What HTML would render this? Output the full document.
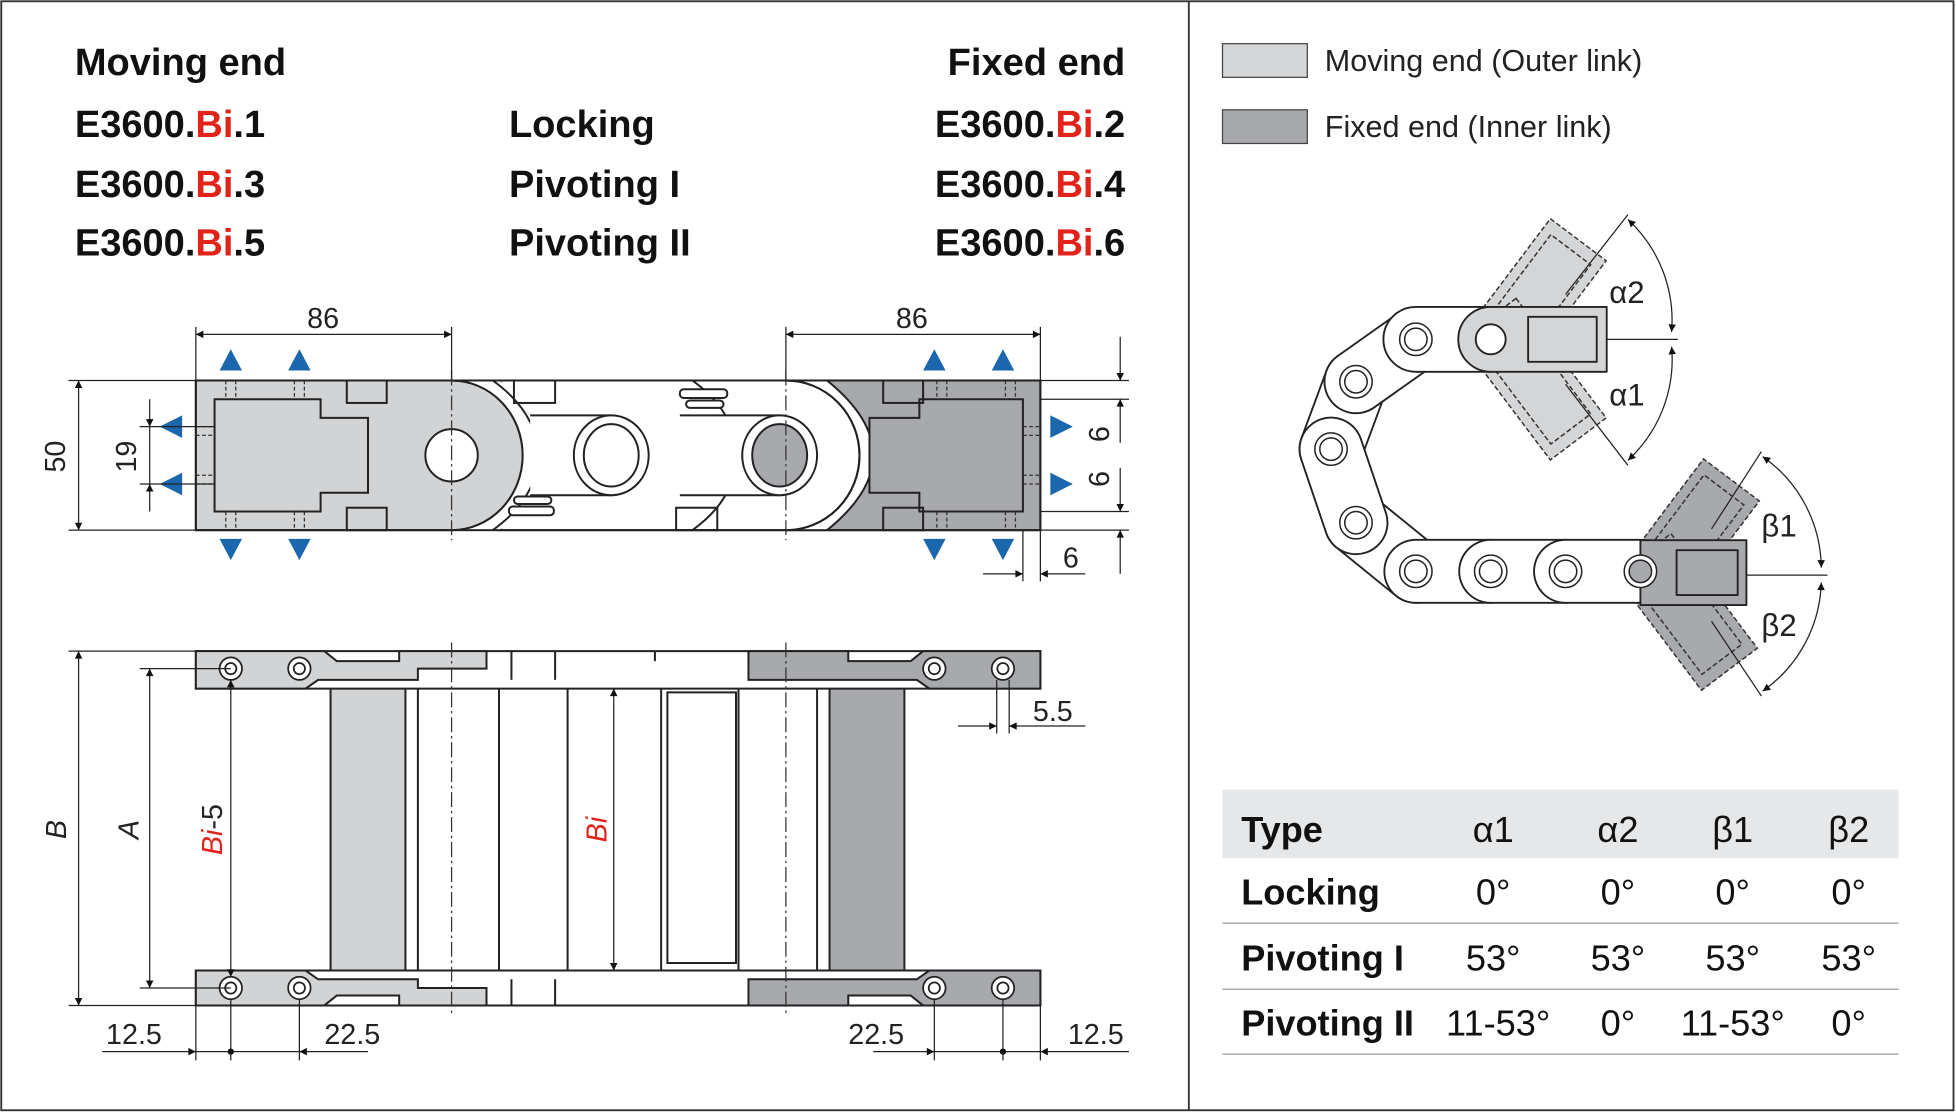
<!DOCTYPE html>
<html><head><meta charset="utf-8"><style>
html,body{margin:0;padding:0;background:#fff}
svg{display:block}
text{font-family:"Liberation Sans",Arial,sans-serif}
</style></head><body>
<svg width="1956" height="1114" viewBox="0 0 1568 893" xmlns="http://www.w3.org/2000/svg">
<defs>
<marker id="a" viewBox="0 0 10 10" refX="10" refY="5" markerWidth="9" markerHeight="6" orient="auto-start-reverse" markerUnits="userSpaceOnUse"><path d="M0,0L10,5L0,10z" fill="#111"/></marker>
</defs>
<rect x="1" y="1" width="1565" height="889" fill="#fff" stroke="#333" stroke-width="1.5"/>
<line x1="953" y1="1" x2="953" y2="890" stroke="#333" stroke-width="1.5"/>

<!-- headings -->
<g font-size="30.5" font-weight="bold" fill="#111">
<text x="60" y="60">Moving end</text>
<text x="60" y="110">E3600.<tspan fill="#e2231a">Bi</tspan>.1</text>
<text x="60" y="158">E3600.<tspan fill="#e2231a">Bi</tspan>.3</text>
<text x="60" y="205">E3600.<tspan fill="#e2231a">Bi</tspan>.5</text>
<text x="408" y="110">Locking</text>
<text x="408" y="158">Pivoting I</text>
<text x="408" y="205">Pivoting II</text>
<g text-anchor="end">
<text x="902" y="60">Fixed end</text>
<text x="902" y="110">E3600.<tspan fill="#e2231a">Bi</tspan>.2</text>
<text x="902" y="158">E3600.<tspan fill="#e2231a">Bi</tspan>.4</text>
<text x="902" y="205">E3600.<tspan fill="#e2231a">Bi</tspan>.6</text>
</g></g>

<!-- legend -->
<rect x="980" y="35" width="68" height="27" fill="#d4d5d7" stroke="#444"/>
<rect x="980" y="88" width="68" height="27" fill="#a7a9ac" stroke="#444"/>
<text x="1062" y="57" font-size="24.5" fill="#222">Moving end (Outer link)</text>
<text x="1062" y="110" font-size="24.5" fill="#222">Fixed end (Inner link)</text>

<!-- TOP VIEW -->
<g stroke="#222" stroke-width="1.6">
<rect x="630" y="305" width="204" height="120" fill="#a7a9ac"/>
<path d="M157,305H362A57,60 0 0 1 362,425H157Z" fill="#d1d3d4"/>
<path d="M400,305H540 Q600,330 600,365 Q600,400 540,425H400 Q425,400 425,365 Q425,330 400,305Z" fill="#fff"/>
<path d="M362,305 A57,60 0 0 1 362,425 L400,425 Q440,400 440,365 Q440,330 400,305Z" fill="#fff" stroke="none"/>
<path d="M395,305 Q430,330 432,365 Q430,400 395,425" fill="none"/>
<path d="M362,305 A57,60 0 0 1 362,425" fill="none"/>
<path d="M630,305 A59,60 0 0 1 630,425 L663,425 Q700,395 700,365 Q700,335 663,305Z" fill="#fff" stroke="none"/>
<path d="M540,305 Q575,330 575,365 Q575,400 540,425" fill="none"/>
<path d="M540,305 H630 A59,60 0 0 1 630,425 H540" fill="#fff"/>
<path d="M555,305 Q590,330 590,365 Q590,400 555,425" fill="none"/>
<path d="M663,305 Q700,335 700,365 Q700,395 663,425" fill="none"/>
<path d="M630,305 A59,60 0 0 1 630,425" fill="none"/>
<rect x="157" y="305" width="677" height="120" fill="none"/>
<path d="M172,320H257V335H295V395H257V410H172Z" fill="#d1d3d4"/>
<rect x="278" y="305" width="32" height="18" fill="none"/>
<rect x="278" y="407" width="32" height="18" fill="none"/>
<circle cx="362" cy="365" r="21" fill="#fff"/>
<path d="M425,333H490V397H425" fill="#fff"/>
<ellipse cx="490" cy="365" rx="30" ry="32" fill="#fff"/>
<ellipse cx="490" cy="365" rx="22" ry="25" fill="#fff"/>
<rect x="412" y="305" width="33" height="18" fill="none"/>
<rect x="412" y="398" width="30" height="6" rx="3" fill="#fff"/>
<rect x="408" y="406" width="36" height="7" rx="3" fill="#fff"/>
<path d="M545,333H625V397H545" fill="#fff"/>
<ellipse cx="625" cy="365" rx="30" ry="32" fill="#fff"/>
<ellipse cx="625" cy="365" rx="22" ry="25" fill="#a7a9ac"/>
<rect x="542" y="407" width="33" height="18" fill="none"/>
<rect x="545" y="312" width="38" height="7" rx="3" fill="#fff"/>
<rect x="550" y="321" width="30" height="6" rx="3" fill="#fff"/>
<path d="M820,320H737V335H697V395H737V410H820Z" fill="#a7a9ac"/>
<rect x="708" y="305" width="32" height="18" fill="none"/>
<rect x="708" y="407" width="32" height="18" fill="none"/>
</g>
<g stroke="#333" stroke-width="1" stroke-dasharray="3,2">
<path d="M181,305V320M189,305V320M236,305V320M244,305V320M181,410V425M189,410V425M236,410V425M244,410V425"/>
<path d="M751,305V320M759,305V320M806,305V320M814,305V320M751,410V425M759,410V425M806,410V425M814,410V425"/>
<path d="M157,342H172M157,349H172M157,381H172M157,388H172M820,342H834M820,349H834M820,381H834M820,388H834"/>
</g>
<g stroke="#333" stroke-width="1" stroke-dasharray="12,3,2,3">
<line x1="362" y1="297" x2="362" y2="433"/><line x1="630" y1="297" x2="630" y2="433"/>
</g>
<g fill="#1a67ad">
<path d="M176,297L185,280L194,297Z"/><path d="M231,297L240,280L249,297Z"/>
<path d="M740,297L749,280L758,297Z"/><path d="M795,297L804,280L813,297Z"/>
<path d="M176,432L185,449L194,432Z"/><path d="M231,432L240,449L249,432Z"/>
<path d="M740,432L749,449L758,432Z"/><path d="M795,432L804,449L813,432Z"/>
<path d="M146,333L128,342L146,351Z"/><path d="M146,379L128,388L146,397Z"/>
<path d="M842,333L860,342L842,351Z"/><path d="M842,379L860,388L842,397Z"/>
</g>
<g stroke="#222" stroke-width="1">
<path d="M157,262V305M362,262V305M630,262V305M834,262V305"/>
<line x1="157" y1="268" x2="362" y2="268" marker-start="url(#a)" marker-end="url(#a)"/>
<line x1="630" y1="268" x2="834" y2="268" marker-start="url(#a)" marker-end="url(#a)"/>
<path d="M55,305H157M55,425H157M112,342H172M112,388H172"/>
<line x1="63" y1="305" x2="63" y2="425" marker-start="url(#a)" marker-end="url(#a)"/>
<line x1="120" y1="320" x2="120" y2="342" marker-end="url(#a)"/>
<line x1="120" y1="410" x2="120" y2="388" marker-end="url(#a)"/>
<line x1="120" y1="342" x2="120" y2="388"/>
<path d="M834,305H905M834,320H905M834,410H905M834,425H905"/>
<line x1="898" y1="270" x2="898" y2="305" marker-end="url(#a)"/>
<line x1="898" y1="355" x2="898" y2="320" marker-end="url(#a)"/>
<line x1="898" y1="375" x2="898" y2="410" marker-end="url(#a)"/>
<line x1="898" y1="460" x2="898" y2="425" marker-end="url(#a)"/>
<path d="M820,425V466M834,425V466"/>
<line x1="788" y1="460" x2="820" y2="460" marker-end="url(#a)"/>
<line x1="870" y1="460" x2="834" y2="460" marker-end="url(#a)"/>
</g>
<g font-size="23" fill="#222">
<text x="259" y="263" text-anchor="middle">86</text>
<text x="731" y="263" text-anchor="middle">86</text>
<text transform="translate(52,366) rotate(-90)" text-anchor="middle">50</text>
<text transform="translate(109,366) rotate(-90)" text-anchor="middle">19</text>
<text transform="translate(889,348) rotate(-90)" text-anchor="middle">6</text>
<text transform="translate(889,384) rotate(-90)" text-anchor="middle">6</text>
<text x="852" y="455">6</text>
</g>

<!-- BOTTOM VIEW -->
<g stroke="#222" stroke-width="1.6">
<rect x="265" y="540" width="60" height="245" fill="#d1d3d4"/>
<rect x="665" y="540" width="60" height="245" fill="#a7a9ac"/>
<path d="M335,548H400V778H335Z" fill="#fff"/>
<path d="M455,548H530V778H455Z" fill="#fff"/>
<path d="M535,555H590V772H535Z" fill="#fff"/>
<path d="M592,548H655V778H592Z" fill="#fff"/>
<path d="M157,522H834V552H157Z" fill="#fff"/>
<path d="M157,522H260L270,530H320V522H390V536H335V545H255L245,552H157Z" fill="#d1d3d4"/>
<path d="M834,522H740L730,530H680V522H600V545H735L745,552H834Z" fill="#a7a9ac"/>
<path d="M157,806H834V778H157Z" fill="#fff"/>
<path d="M157,806H260L270,798H320V806H390V792H335V785H255L245,778H157Z" fill="#d1d3d4"/>
<path d="M834,806H740L730,798H680V806H600V785H735L745,778H834Z" fill="#a7a9ac"/>
<path d="M410,522V545M445,522V545M410,806V785M445,806V785M525,522V530M600,522V530"/>
</g>
<g stroke="#222" stroke-width="1.4">
<circle cx="185" cy="536" r="9" fill="#fff"/><circle cx="185" cy="536" r="4.5" fill="#fff"/>
<circle cx="240" cy="536" r="9" fill="#fff"/><circle cx="240" cy="536" r="4.5" fill="#fff"/>
<circle cx="749" cy="536" r="9" fill="#fff"/><circle cx="749" cy="536" r="4.5" fill="#fff"/>
<circle cx="804" cy="536" r="9" fill="#fff"/><circle cx="804" cy="536" r="4.5" fill="#fff"/>
<circle cx="185" cy="792" r="9" fill="#fff"/><circle cx="185" cy="792" r="4.5" fill="#fff"/>
<circle cx="240" cy="792" r="9" fill="#fff"/><circle cx="240" cy="792" r="4.5" fill="#fff"/>
<circle cx="749" cy="792" r="9" fill="#fff"/><circle cx="749" cy="792" r="4.5" fill="#fff"/>
<circle cx="804" cy="792" r="9" fill="#fff"/><circle cx="804" cy="792" r="4.5" fill="#fff"/>
</g>
<g stroke="#333" stroke-width="1" stroke-dasharray="12,3,2,3">
<line x1="362" y1="515" x2="362" y2="812"/><line x1="630" y1="515" x2="630" y2="812"/>
</g>
<g stroke="#222" stroke-width="1">
<path d="M55,522H157M55,806H157M112,536H185M112,792H185"/>
<line x1="63" y1="522" x2="63" y2="806" marker-start="url(#a)" marker-end="url(#a)"/>
<line x1="120" y1="536" x2="120" y2="792" marker-start="url(#a)" marker-end="url(#a)"/>
<line x1="185" y1="545" x2="185" y2="783" marker-start="url(#a)" marker-end="url(#a)"/>
<line x1="492" y1="552" x2="492" y2="778" marker-start="url(#a)" marker-end="url(#a)"/>
<path d="M799,545V588M809,545V588"/>
<line x1="768" y1="582" x2="799" y2="582" marker-end="url(#a)"/>
<line x1="870" y1="582" x2="809" y2="582" marker-end="url(#a)"/>
<path d="M157,806V850M185,801V850M240,801V850M749,801V850M804,801V850M834,806V850"/>
<line x1="82" y1="843" x2="157" y2="843" marker-end="url(#a)"/>
<line x1="157" y1="843" x2="240" y2="843"/>
<line x1="295" y1="843" x2="240" y2="843" marker-end="url(#a)"/>
<line x1="700" y1="843" x2="749" y2="843" marker-end="url(#a)"/>
<line x1="749" y1="843" x2="834" y2="843"/>
<line x1="905" y1="843" x2="834" y2="843" marker-end="url(#a)"/>
</g>
<circle cx="185" cy="843" r="2.5" fill="#111"/><circle cx="804" cy="843" r="2.5" fill="#111"/>
<g font-size="23" fill="#222">
<text transform="translate(53,665) rotate(-90)" text-anchor="middle" font-style="italic">B</text>
<text transform="translate(111,665) rotate(-90)" text-anchor="middle" font-style="italic">A</text>
<text transform="translate(178,665) rotate(-90)" text-anchor="middle"><tspan fill="#e2231a" font-style="italic">Bi</tspan>-5</text>
<text transform="translate(486,665) rotate(-90)" text-anchor="middle" fill="#e2231a" font-style="italic">Bi</text>
<text x="828" y="578">5.5</text>
<text x="85" y="837">12.5</text>
<text x="260" y="837">22.5</text>
<text x="680" y="837">22.5</text>
<text x="856" y="837">12.5</text>
</g>

<!-- RIGHT CHAIN -->
<g stroke="#333" stroke-width="1.2" stroke-dasharray="4,2">
<g transform="rotate(-53 1205 272)"><rect x="1185" y="244" width="120" height="56" fill="#d4d5d7"/><rect x="1195" y="252" width="100" height="40" fill="none"/></g>
<g transform="rotate(53 1205 272)"><rect x="1185" y="244" width="120" height="56" fill="#d4d5d7"/><rect x="1195" y="252" width="100" height="40" fill="none"/></g>
<g transform="rotate(-53 1330 460)"><rect x="1310" y="433" width="115" height="56" fill="#a7a9ac"/><rect x="1320" y="441" width="95" height="40" fill="none"/></g>
<g transform="rotate(53 1330 460)"><rect x="1310" y="433" width="115" height="56" fill="#a7a9ac"/><rect x="1320" y="441" width="95" height="40" fill="none"/></g>
</g>
<g stroke="#222" stroke-width="1.5" fill="#fff" stroke-linejoin="round">
<line x1="1087" y1="306" x2="1067" y2="360" stroke-width="52" stroke-linecap="round" stroke="#222"/>
<line x1="1087" y1="306" x2="1067" y2="360" stroke-width="49" stroke-linecap="round" stroke="#fff"/>
<line x1="1087" y1="419" x2="1135" y2="458" stroke-width="52" stroke-linecap="round" stroke="#222"/>
<line x1="1087" y1="419" x2="1135" y2="458" stroke-width="49" stroke-linecap="round" stroke="#fff"/>
<line x1="1067" y1="360" x2="1087" y2="419" stroke-width="52" stroke-linecap="round" stroke="#222"/>
<line x1="1067" y1="360" x2="1087" y2="419" stroke-width="49" stroke-linecap="round" stroke="#fff"/>
<line x1="1135" y1="272" x2="1087" y2="306" stroke-width="52" stroke-linecap="round" stroke="#222"/>
<line x1="1135" y1="272" x2="1087" y2="306" stroke-width="49" stroke-linecap="round" stroke="#fff"/>
<line x1="1135" y1="458" x2="1195" y2="458" stroke-width="52" stroke-linecap="round" stroke="#222"/>
<line x1="1135" y1="458" x2="1195" y2="458" stroke-width="49" stroke-linecap="round" stroke="#fff"/>
<line x1="1195" y1="458" x2="1255" y2="458" stroke-width="52" stroke-linecap="round" stroke="#222"/>
<line x1="1195" y1="458" x2="1255" y2="458" stroke-width="49" stroke-linecap="round" stroke="#fff"/>
<line x1="1255" y1="458" x2="1315" y2="458" stroke-width="52" stroke-linecap="round" stroke="#222"/>
<line x1="1255" y1="458" x2="1315" y2="458" stroke-width="49" stroke-linecap="round" stroke="#fff"/>
<rect x="1315" y="433" width="85" height="52" fill="#a7a9ac"/>
<path d="M1344,441H1393V477H1344Z" fill="#a7a9ac"/>
<circle cx="1135" cy="272" r="26" fill="#fff"/>
<rect x="1135" y="246" width="60" height="52" fill="#fff" stroke="none"/>
<path d="M1135,246H1195M1135,298H1195" fill="none"/>
<path d="M1195,246H1288V298H1195A26,26 0 0 1 1195,246Z" fill="#d4d5d7"/>
<path d="M1225,254H1280V290H1225Z" fill="#d4d5d7"/>
<circle cx="1195" cy="272" r="12" fill="#fff"/>
</g>
<g stroke="#222" stroke-width="1.2" fill="#fff">
<circle cx="1135" cy="272" r="13"/><circle cx="1135" cy="272" r="9"/>
<circle cx="1087" cy="306" r="13"/><circle cx="1087" cy="306" r="9"/>
<circle cx="1067" cy="360" r="13"/><circle cx="1067" cy="360" r="9"/>
<circle cx="1087" cy="419" r="13"/><circle cx="1087" cy="419" r="9"/>
<circle cx="1135" cy="458" r="13"/><circle cx="1135" cy="458" r="9"/>
<circle cx="1195" cy="458" r="13"/><circle cx="1195" cy="458" r="9"/>
<circle cx="1255" cy="458" r="13"/><circle cx="1255" cy="458" r="9"/>
<circle cx="1315" cy="458" r="13"/><circle cx="1315" cy="458" r="9" fill="#a7a9ac"/>
</g>
<g stroke="#222" stroke-width="1">
<path d="M1288,272H1345M1400,461H1465"/>
<path d="M1255,236L1305,172M1255,308L1305,373M1372,424L1412,362M1372,498L1412,558"/>
<path d="M1305,176 A110,110 0 0 1 1340,266" fill="none" marker-start="url(#a)" marker-end="url(#a)"/>
<path d="M1340,278 A110,110 0 0 1 1305,369" fill="none" marker-start="url(#a)" marker-end="url(#a)"/>
<path d="M1413,366 A110,110 0 0 1 1460,455" fill="none" marker-start="url(#a)" marker-end="url(#a)"/>
<path d="M1460,467 A110,110 0 0 1 1413,554" fill="none" marker-start="url(#a)" marker-end="url(#a)"/>
</g>
<g font-size="25" fill="#222">
<text x="1290" y="243">α2</text><text x="1290" y="325">α1</text>
<text x="1412" y="430">β1</text><text x="1412" y="510">β2</text>
</g>

<!-- TABLE -->
<rect x="980" y="633" width="542" height="55" fill="#e6e7e8"/>
<g stroke="#999" stroke-width="1"><path d="M980,740H1522M980,793H1522M980,845H1522"/></g>
<g font-size="29" fill="#111">
<g font-weight="bold">
<text x="995" y="675">Type</text><text x="995" y="725">Locking</text>
<text x="995" y="778">Pivoting I</text><text x="995" y="830">Pivoting II</text>
</g>
<g text-anchor="middle">
<text x="1197" y="675">α1</text><text x="1297" y="675">α2</text><text x="1389" y="675">β1</text><text x="1482" y="675">β2</text>
<text x="1197" y="725">0°</text><text x="1297" y="725">0°</text><text x="1389" y="725">0°</text><text x="1482" y="725">0°</text>
<text x="1197" y="778">53°</text><text x="1297" y="778">53°</text><text x="1389" y="778">53°</text><text x="1482" y="778">53°</text>
<text x="1201" y="830">11-53°</text><text x="1297" y="830">0°</text><text x="1389" y="830">11-53°</text><text x="1482" y="830">0°</text>
</g></g>
</svg>
</body></html>
